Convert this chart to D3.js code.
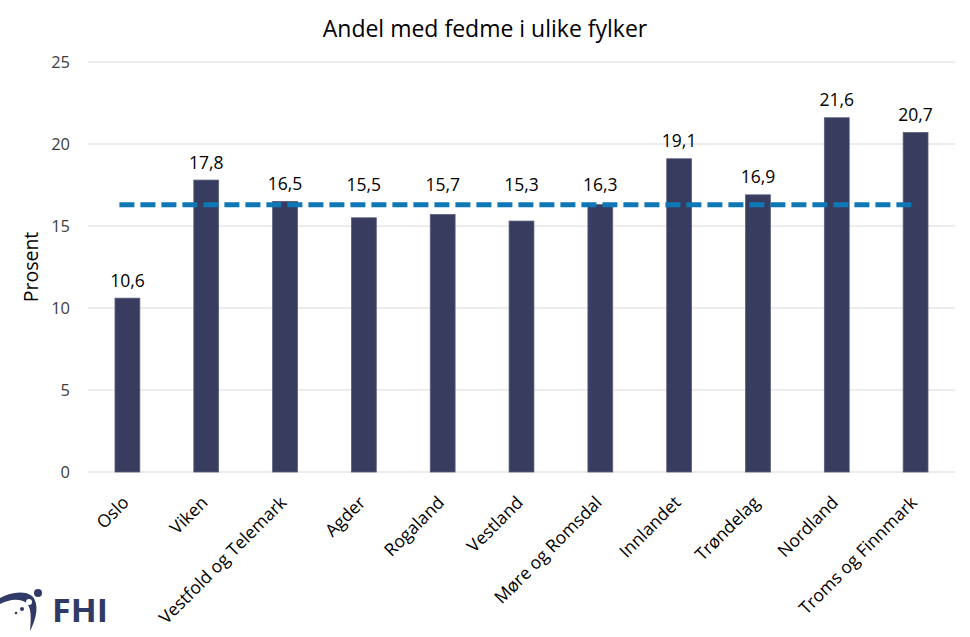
<!DOCTYPE html>
<html lang="no">
<head>
<meta charset="UTF-8">
<title>Andel med fedme i ulike fylker</title>
<script src="https://d3js.org/d3.v7.min.js"></script>
<style>
  body { margin: 0; background: #fff; }
  text { font-family: "Open Sans", Lato, sans-serif; }
</style>
</head>
<body>
<script>
const fylker = ["Oslo", "Viken", "Vestfold og Telemark", "Agder", "Rogaland", "Vestland",
  "Møre og Romsdal", "Innlandet", "Trøndelag", "Nordland", "Troms og Finnmark"];
const andel = [10.6, 17.8, 16.5, 15.5, 15.7, 15.3, 16.3, 19.1, 16.9, 21.6, 20.7];
const landet = 16.3;
const yTicks = [0, 5, 10, 15, 20, 25];

const W = 970, H = 637;
const m = {left: 88, right: 15, top: 62, bottom: 165};

const svg = d3.select("body").append("svg")
  .attr("width", W).attr("height", H);

const x = d3.scaleBand().domain(fylker).range([m.left, W - m.right]).paddingInner(0.685).paddingOuter(0.3425);
const y = d3.scaleLinear().domain([0, 25]).range([H - m.bottom, m.top]);
const cx = d => x(d) + x.bandwidth() / 2;

// gridlines
svg.append("g").selectAll("line").data(yTicks).enter().append("line")
  .attr("x1", m.left).attr("x2", W - m.right)
  .attr("y1", d => y(d)).attr("y2", d => y(d))
  .attr("stroke", "#d9d9d9").attr("stroke-width", 1);

// y tick labels
svg.append("g").selectAll("text").data(yTicks).enter().append("text")
  .attr("x", 70).attr("y", d => y(d)).attr("dy", "0.36em")
  .attr("text-anchor", "end").attr("font-size", 16.5).attr("fill", "#404040")
  .text(d => d);

// bars
svg.append("g").selectAll("rect").data(andel).enter().append("rect")
  .attr("x", (d, i) => x(fylker[i]))
  .attr("width", x.bandwidth())
  .attr("y", d => y(d))
  .attr("height", d => y(0) - y(d))
  .attr("fill", "#383c5e")
  .attr("stroke", "#585c7c").attr("stroke-width", 0.8);

// national average dashed line
svg.append("line")
  .attr("x1", cx(fylker[0]) - 8)
  .attr("x2", cx(fylker[fylker.length - 1]) + 2)
  .attr("y1", y(landet)).attr("y2", y(landet))
  .attr("stroke", "#0e77b6").attr("stroke-width", 5)
  .attr("stroke-dasharray", "15,6");

// value labels, lifted above the dashed line where they would collide with it
const labelY = d => {
  const top = y(d);
  return (top > y(landet) - 3 && top - y(landet) < 30) ? y(landet) - 14 : top - 11.5;
};
svg.append("g").selectAll("text").data(andel).enter().append("text")
  .attr("x", (d, i) => cx(fylker[i]))
  .attr("y", labelY)
  .attr("text-anchor", "middle").attr("font-size", 17.5).attr("fill", "#000")
  .text(d => d.toFixed(1).replace(".", ","));

// x labels
svg.append("g").selectAll("text").data(fylker).enter().append("text")
  .attr("transform", d => `translate(${cx(d) - 6},${y(0) + 23}) rotate(-45)`)
  .attr("text-anchor", "end").attr("dy", "0.7em")
  .attr("font-size", 17.5).attr("fill", "#000")
  .text(d => d);

// axis title
svg.append("text")
  .attr("transform", "translate(31,267) rotate(-90)")
  .attr("text-anchor", "middle").attr("dy", "0.35em")
  .attr("font-size", 19.5).attr("fill", "#000")
  .text("Prosent");

// chart title
svg.append("text")
  .attr("x", 485).attr("y", 37)
  .attr("text-anchor", "middle").attr("font-size", 23).attr("fill", "#000")
  .text("Andel med fedme i ulike fylker");

// FHI logo
const logo = svg.append("g").attr("fill", "#2f3a66");
logo.append("path")
  .attr("d", "M0,598 C10,592 25,590 32,596 C40,604 36,620 30,631 C31,618 32,606 25,602 C18,598 8,600 0,604 Z");
logo.append("circle").attr("cx", 38).attr("cy", 593).attr("r", 4);
logo.append("circle").attr("cx", 29).attr("cy", 602).attr("r", 3).attr("fill", "#fff");
logo.append("circle").attr("cx", 22).attr("cy", 609).attr("r", 2);
logo.append("circle").attr("cx", 16).attr("cy", 613).attr("r", 1.3);
logo.append("text")
  .attr("x", 52).attr("y", 622)
  .attr("font-family", "'DejaVu Sans', sans-serif")
  .attr("font-weight", "bold").attr("font-size", 31.5)
  .attr("textLength", 56).attr("lengthAdjust", "spacingAndGlyphs")
  .text("FHI");
</script>
</body>
</html>
